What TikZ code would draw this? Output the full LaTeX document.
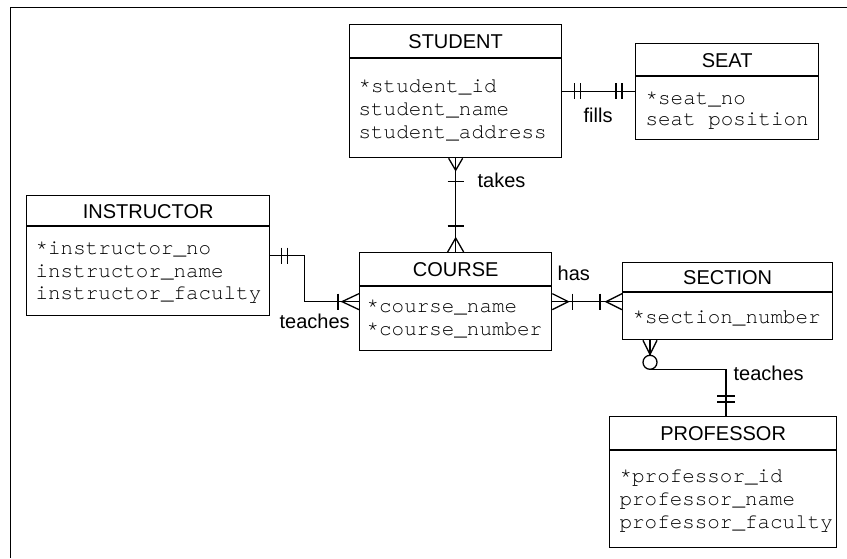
\documentclass[tikz,border=0pt]{standalone}
\usepackage{fontspec}
\setmainfont{Liberation Sans}
\newfontfamily\monofont{texgyrecursor-regular.otf}
\usetikzlibrary{calc}
\begin{document}
\begin{tikzpicture}[x=1pt,y=-1pt,line width=1.3pt,
  entity/.style={draw,rectangle,anchor=north west,inner sep=0pt,line width=1.3pt},
  etitle/.style={font=\fontsize{20}{24}\selectfont,anchor=base,inner sep=0pt},
  attr/.style={font=\monofont\fontsize{20.9}{24}\selectfont,anchor=base west,inner sep=0pt},
  lbl/.style={font=\fontsize{20}{24}\selectfont,anchor=base west,inner sep=0pt},
  conn/.style={line width=1.3pt}]
\useasboundingbox (0,0) rectangle (847,558);
% frame
\draw[line width=1.8pt] (10.5,558) -- (10.5,7.5) -- (847,7.5);

% entities
\node[entity,minimum width=212pt,minimum height=133pt] (student) at (349,24) {};
\node[entity,minimum width=183pt,minimum height=96pt] (seat) at (635,43) {};
\node[entity,minimum width=243pt,minimum height=120pt] (instructor) at (26,195) {};
\node[entity,minimum width=192pt,minimum height=98pt] (course) at (359,252) {};
\node[entity,minimum width=210pt,minimum height=77pt] (section) at (622,262) {};
\node[entity,minimum width=227pt,minimum height=131pt] (professor) at (609,416) {};

% dividers
\draw (student.west |- 0,58) -- (student.east |- 0,58);
\draw (seat.west |- 0,76) -- (seat.east |- 0,76);
\draw (instructor.west |- 0,226) -- (instructor.east |- 0,226);
\draw (course.west |- 0,286) -- (course.east |- 0,286);
\draw (section.west |- 0,292) -- (section.east |- 0,292);
\draw (professor.west |- 0,450) -- (professor.east |- 0,450);

% titles
\node[etitle] (tstudent) at (student.north |- 0,48) {STUDENT};
\node[etitle] (tseat) at (seat.north |- 0,67) {SEAT};
\node[etitle] (tinstructor) at (instructor.north |- 0,218) {INSTRUCTOR};
\node[etitle] (tcourse) at (course.north |- 0,276) {COURSE};
\node[etitle] (tsection) at (section.north |- 0,284) {SECTION};
\node[etitle] (tprofessor) at (professor.north |- 0,440) {PROFESSOR};

% attributes
\node[attr] (a1) at (358,92) {*student\_id};
\node[attr] (a2) at (358,115) {student\_name};
\node[attr] (a3) at (358,138) {student\_address};
\node[attr] (a4) at (645,104) {*seat\_no};
\node[attr] (a5) at (645,125) {seat position};
\node[attr] (a6) at (35,254) {*instructor\_no};
\node[attr] (a7) at (35,277) {instructor\_name};
\node[attr] (a8) at (35,299) {instructor\_faculty};
\node[attr] (a9) at (366,312) {*course\_name};
\node[attr] (a10) at (366,335) {*course\_number};
\node[attr] (a11) at (632,323) {*section\_number};
\node[attr] (a12) at (619,482) {*professor\_id};
\node[attr] (a13) at (619,505) {professor\_name};
\node[attr] (a14) at (619,528) {professor\_faculty};

% fills: student -- seat (one and only one both ends)
\draw[conn] (student.east) -- (student.east -| seat.west);
\draw[conn] ($(student.east)+(12,-8)$) -- ++(0,16);
\draw[conn] ($(student.east)+(18,-8)$) -- ++(0,16);
\draw[conn] ($(student.east -| seat.west)+(-13,-8)$) -- ++(0,16);
\draw[conn] ($(student.east -| seat.west)+(-19,-8)$) -- ++(0,16);
\node[lbl] (lfills) at (583,122) {fills};

% takes: student -- course
\draw[conn] (student.south) -- (course.north);
\draw[conn] ($(student.south)+(-7,0)$) -- ($(student.south)+(0,12)$) -- ($(student.south)+(7,0)$);
\draw[conn] ($(student.south)+(-8,23)$) -- ++(16,0);
\draw[conn] ($(course.north)+(-8,0)$) -- ($(course.north)+(0,-14)$) -- ($(course.north)+(8,0)$);
\draw[conn] ($(course.north)+(-8,-26)$) -- ++(16,0);
\node[lbl] (ltakes) at (477,187) {takes};

% teaches: instructor -- course
\draw[conn] (instructor.east) -- ++(34,0) |- (course.west);
\draw[conn] ($(instructor.east)+(11,-8)$) -- ++(0,16);
\draw[conn] ($(instructor.east)+(17,-8)$) -- ++(0,16);
\draw[conn] ($(course.west)+(0,-8)$) -- ($(course.west)+(-17,0)$) -- ($(course.west)+(0,8)$);
\draw[conn] ($(course.west)+(-21,-8)$) -- ++(0,16);
\node[lbl] (lteaches1) at (279,328) {teaches};

% has: course -- section
\draw[conn] (course.east) -- (course.east -| section.west);
\draw[conn] ($(course.east)+(0,-8)$) -- ($(course.east)+(16,0)$) -- ($(course.east)+(0,8)$);
\draw[conn] ($(course.east)+(20,-8)$) -- ++(0,16);
\draw[conn] ($(course.east -| section.west)+(0,-8)$) -- ($(course.east -| section.west)+(-16,0)$) -- ($(course.east -| section.west)+(0,8)$);
\draw[conn] ($(course.east -| section.west)+(-22,-8)$) -- ++(0,16);
\node[lbl] (lhas) at (557,280) {has};

% teaches: section -- professor
\coordinate (sb) at ($(section.south west)+(28,0)$);
\coordinate (pt) at ($(professor.north west)+(117,0)$);
\draw[conn] (sb) -- ++(0,15);
\draw[conn] ($(sb)+(-7,0)$) -- ($(sb)+(0,14)$) -- ($(sb)+(7,0)$);
\draw[conn] ($(sb)+(0,22)$) circle[radius=7pt];
\draw[conn] ($(sb)+(0,29)$) -| (pt);
\draw[conn] ($(pt)+(-9,-14)$) -- ++(18,0);
\draw[conn] ($(pt)+(-9,-20)$) -- ++(18,0);
\node[lbl] (lteaches2) at (733,380) {teaches};
\end{tikzpicture}
\end{document}
